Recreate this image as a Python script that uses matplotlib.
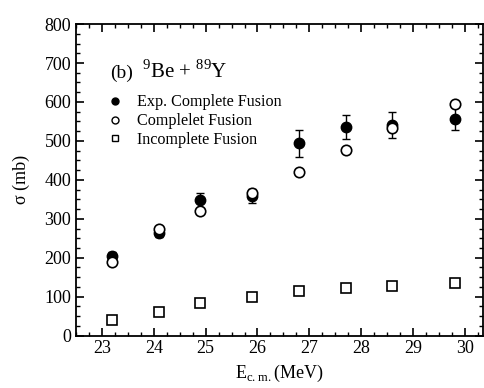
import numpy as np
from matplotlib import pyplot as plt
from matplotlib.ticker import MultipleLocator
from matplotlib.lines import Line2D

# données
energie = [23.2, 24.1, 24.9, 25.9, 26.8, 27.7, 28.6, 29.8]
sigma_exp = [205, 263, 347, 358, 494, 536, 540, 557]
erreur_exp = [10, 10, 20, 18, 35, 31, 33, 30]
sigma_complete = [188, 275, 320, 367, 420, 477, 533, 594]
sigma_incomplete = [41, 60, 83, 100, 114, 121, 128, 135]
noms = ['Exp. Complete Fusion', 'Complelet Fusion', 'Incomplete Fusion']

plt.rcParams['font.family'] = ['Liberation Serif', 'DejaVu Serif']
plt.rcParams['mathtext.fontset'] = 'custom'
plt.rcParams['mathtext.rm'] = 'Liberation Serif'
plt.rcParams['font.size'] = 13

fig = plt.figure(figsize=(4.84, 3.88), dpi=100)
ax = fig.add_axes([0.157, 0.135, 0.841, 0.803])

ax.errorbar(energie, sigma_exp, yerr=erreur_exp, fmt='o', color='black',
            markersize=7.5, capsize=3, elinewidth=1, zorder=3)
ax.plot(energie, sigma_complete, 'o', markerfacecolor='white', markeredgecolor='black',
        markersize=7.5, markeredgewidth=1.2, zorder=4)
ax.plot(energie, sigma_incomplete, 's', markerfacecolor='white', markeredgecolor='black',
        markersize=7, markeredgewidth=1.2, zorder=4)

ax.set_xlim(22.5, 30.35)
ax.set_ylim(0, 800)
ax.xaxis.set_major_locator(MultipleLocator(1))
ax.xaxis.set_minor_locator(MultipleLocator(0.25))
ax.yaxis.set_major_locator(MultipleLocator(100))
ax.yaxis.set_minor_locator(MultipleLocator(25))
ax.tick_params(which='both', direction='in', top=True, right=True)
ax.tick_params(which='major', length=6, width=1.2)
ax.tick_params(which='minor', length=3, width=1)
for s in ax.spines.values():
    s.set_linewidth(1.3)

ax.set_xlabel(r'E$_{\mathrm{c.m.}}$(MeV)', labelpad=4)
ax.set_ylabel('σ (mb)', labelpad=10)

# titre du panneau
ax.text(0.084, 0.827, '(b)', transform=ax.transAxes, fontsize=14)
ax.text(0.162, 0.827, r'$^{\mathrm{9}}$Be + $^{\mathrm{89}}$Y', transform=ax.transAxes, fontsize=15)

poignees = [
    Line2D([], [], ls='none', marker='o', color='black', markersize=5),
    Line2D([], [], ls='none', marker='o', markerfacecolor='white', markeredgecolor='black', markersize=5),
    Line2D([], [], ls='none', marker='s', markerfacecolor='white', markeredgecolor='black', markersize=5),
]
ax.legend(poignees, noms, loc='upper left', bbox_to_anchor=(0.03, 0.821), frameon=False,
          fontsize=11.6, handletextpad=0.6, labelspacing=0.18, handlelength=1.5)

fig.savefig('out.png', dpi=100)
